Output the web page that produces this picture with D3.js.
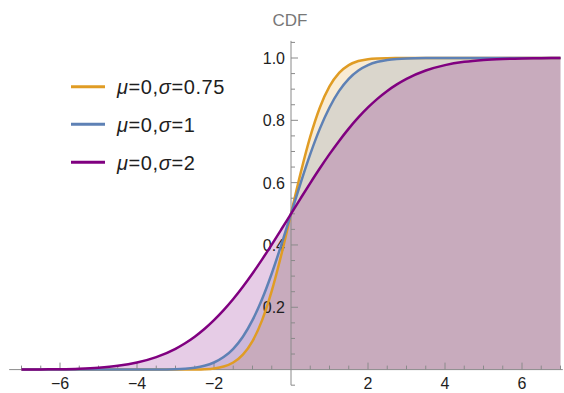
<!DOCTYPE html>
<html>
<head>
<meta charset="utf-8">
<script src="https://cdn.jsdelivr.net/npm/d3@7"></script>
<style>
  html, body { margin: 0; padding: 0; background: #fff; }
  svg { display: block; }
  text { font-family: "Liberation Sans", Arial, sans-serif; }
</style>
</head>
<body>
<svg id="chart" width="564" height="393"></svg>
<script>
// x positions where the CDFs were read
const xs = [-7, -6.5, -6, -5.5, -5, -4.5, -4, -3.5,
  -3, -2.75, -2.5, -2.25, -2, -1.75, -1.5, -1.25, -1, -0.75, -0.5, -0.25,
  0, 0.25, 0.5, 0.75, 1, 1.25, 1.5, 1.75, 2, 2.25, 2.5, 2.75, 3,
  3.5, 4, 4.5, 5, 5.5, 6, 6.5, 7];

// mu=0, sigma=0.75
const cdf075 = [0, 0, 0, 0, 0, 0, 0, 0,
  0, 0.0001, 0.0004, 0.0013, 0.0038, 0.0098, 0.0228, 0.0478, 0.0912, 0.1587, 0.2525, 0.3694,
  0.5, 0.6306, 0.7475, 0.8413, 0.9088, 0.9522, 0.9772, 0.9902, 0.9962, 0.9987, 0.9996, 0.9999, 1,
  1, 1, 1, 1, 1, 1, 1, 1];

// mu=0, sigma=1
const cdf1 = [0, 0, 0, 0, 0, 0, 0, 0.0002,
  0.0013, 0.0030, 0.0062, 0.0122, 0.0228, 0.0401, 0.0668, 0.1056, 0.1587, 0.2266, 0.3085, 0.4013,
  0.5, 0.5987, 0.6915, 0.7734, 0.8413, 0.8944, 0.9332, 0.9599, 0.9772, 0.9878, 0.9938, 0.9970, 0.9987,
  0.9998, 1, 1, 1, 1, 1, 1, 1];

// mu=0, sigma=2
const cdf2 = [0.0002, 0.0006, 0.0013, 0.0030, 0.0062, 0.0122, 0.0228, 0.0401,
  0.0668, 0.0846, 0.1056, 0.1303, 0.1587, 0.1908, 0.2266, 0.2660, 0.3085, 0.3538, 0.4013, 0.4503,
  0.5, 0.5497, 0.5987, 0.6462, 0.6915, 0.7340, 0.7734, 0.8092, 0.8413, 0.8697, 0.8944, 0.9154, 0.9332,
  0.9599, 0.9772, 0.9878, 0.9938, 0.9970, 0.9987, 0.9994, 0.9998];

const seriesNames = ["\u03bc=0,\u03c3=0.75", "\u03bc=0,\u03c3=1", "\u03bc=0,\u03c3=2"];
const seriesColors = ["#E09C24", "#5E81B5", "#800080"];
const seriesValues = [cdf075, cdf1, cdf2];

const xTickMajor = [-6, -4, -2, 2, 4, 6];
const yTickMajor = [0.2, 0.4, 0.6, 0.8, 1.0];
const axisLabel = "CDF";

const svg = d3.select("#chart");
const x = d3.scaleLinear().domain([-7, 7]).range([21.5, 560.5]);
const y = d3.scaleLinear().domain([0, 1]).range([369.6, 58]);

const series = seriesValues.map((vals, i) => ({
  name: seriesNames[i], color: seriesColors[i],
  pts: xs.map((xv, j) => [xv, vals[j]])
}));

const area = d3.area().x(d => x(d[0])).y0(y(0)).y1(d => y(d[1])).curve(d3.curveMonotoneX);
const line = d3.line().x(d => x(d[0])).y(d => y(d[1])).curve(d3.curveMonotoneX);

// fills
svg.append("g").selectAll("path").data(series).join("path")
  .attr("d", d => area(d.pts))
  .attr("fill", d => d.color).attr("fill-opacity", 0.2).attr("stroke", "none");

// axes
const axisColor = "#8a8a8a";
const ax = svg.append("g");
ax.append("line").attr("x1", x(-7.32)).attr("x2", x(7.06)).attr("y1", y(0)).attr("y2", y(0))
  .attr("stroke", axisColor).attr("stroke-width", 1);
ax.append("line").attr("x1", x(0)).attr("x2", x(0)).attr("y1", y(1.055)).attr("y2", y(-0.05))
  .attr("stroke", axisColor).attr("stroke-width", 1);

// x ticks
const xMinor = d3.range(-14, 15).map(k => k / 2).filter(v => v !== 0 && !xTickMajor.includes(v));
ax.selectAll(".xmin").data(xMinor).join("line")
  .attr("x1", d => x(d)).attr("x2", d => x(d)).attr("y1", y(0)).attr("y2", y(0) - 4)
  .attr("stroke", axisColor);
ax.selectAll(".xmaj").data(xTickMajor).join("line")
  .attr("x1", d => x(d)).attr("x2", d => x(d)).attr("y1", y(0)).attr("y2", y(0) - 7)
  .attr("stroke", axisColor);
ax.selectAll(".xlab").data(xTickMajor).join("text")
  .attr("x", d => x(d)).attr("y", 389).attr("text-anchor", "middle")
  .attr("font-size", 16).attr("fill", "#1e1e1e")
  .text(d => d < 0 ? "\u2212" + Math.abs(d) : String(d));

// y ticks
const yMinor = d3.range(-1, 22).map(k => k * 0.05).filter(v => Math.abs(v) > 1e-9 && !yTickMajor.some(m => Math.abs(m - v) < 1e-9));
ax.selectAll(".ymin").data(yMinor).join("line")
  .attr("x1", x(0)).attr("x2", x(0) + 4).attr("y1", d => y(d)).attr("y2", d => y(d))
  .attr("stroke", axisColor);
ax.selectAll(".ymaj").data(yTickMajor).join("line")
  .attr("x1", x(0)).attr("x2", x(0) + 7).attr("y1", d => y(d)).attr("y2", d => y(d))
  .attr("stroke", axisColor);

// lines
svg.append("g").selectAll("path").data(series).join("path")
  .attr("d", d => line(d.pts))
  .attr("fill", "none").attr("stroke", d => d.color).attr("stroke-width", 2.5)
  .attr("stroke-linejoin", "round");

// y labels
ax.append("g").selectAll("text").data(yTickMajor).join("text")
  .attr("x", 285).attr("y", d => y(d) + 6).attr("text-anchor", "end")
  .attr("font-size", 16).attr("fill", "#1e1e1e")
  .text(d => d.toFixed(1));

// axis label
svg.append("text").attr("x", 290).attr("y", 26).attr("text-anchor", "middle")
  .attr("font-size", 17).attr("fill", "#777").text(axisLabel);

// legend
const lg = svg.append("g");
const legY = [86.7, 124.3, 162.3];
series.forEach((s, i) => {
  lg.append("line").attr("x1", 71).attr("x2", 105).attr("y1", legY[i]).attr("y2", legY[i])
    .attr("stroke", s.color).attr("stroke-width", 3);
  const t = lg.append("text").attr("x", 117).attr("y", legY[i] + 7.5)
    .attr("font-size", 20).attr("letter-spacing", 0.6).attr("fill", "#1e1e1e");
  const parts = s.name.split(/(\u03bc|\u03c3)/).filter(p => p.length);
  parts.forEach(p => {
    t.append("tspan").attr("font-style", (p === "\u03bc" || p === "\u03c3") ? "italic" : "normal").text(p);
  });
});
</script>
</body>
</html>
